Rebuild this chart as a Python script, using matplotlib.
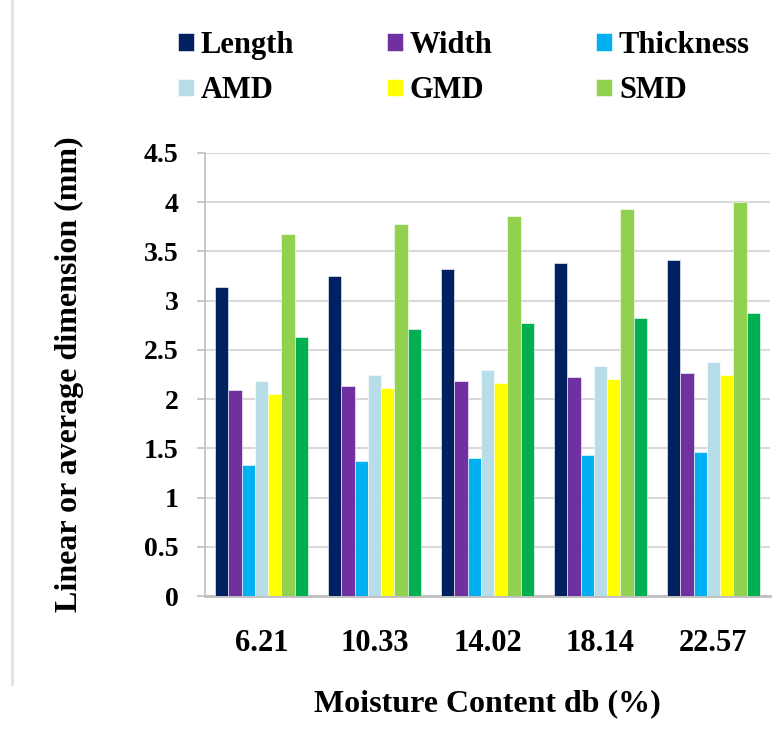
import numpy as np
import matplotlib
matplotlib.use('Agg')
import matplotlib.pyplot as plt

plt.rcParams['font.family'] = 'Liberation Serif'
plt.rcParams['font.weight'] = 'bold'

# Moisture content groups and the measured dimensions (mm)
moisture = ['6.21', '10.33', '14.02', '18.14', '22.57']
length = [3.14, 3.25, 3.32, 3.38, 3.41]
width = [2.09, 2.13, 2.18, 2.22, 2.27]
thickness = [1.33, 1.37, 1.40, 1.43, 1.46]
amd = [2.18, 2.25, 2.30, 2.34, 2.38]
gmd = [2.05, 2.11, 2.16, 2.20, 2.24]
smd = [3.68, 3.78, 3.86, 3.93, 4.00]
extra = [2.63, 2.71, 2.77, 2.82, 2.87]  # seventh series, no legend entry shown

series = [length, width, thickness, amd, gmd, smd, extra]
labels = ['Length', 'Width', 'Thickness', 'AMD', 'GMD', 'SMD', None]
colors = ['#002060', '#7030A0', '#00B0F0', '#B7DEE8', '#FFFF00', '#92D050', '#00B050']

fig = plt.figure(figsize=(7.83, 7.44), dpi=100)
ax = fig.add_axes([205/783, 1-596/744, 565/783, 443/744])

x = np.arange(len(moisture))
bw = 0.117
n = len(series)
handles = []
for i, (vals, lab, c) in enumerate(zip(series, labels, colors)):
    off = (i - (n-1)/2) * bw
    b = ax.bar(x + off, vals, bw, color=c, edgecolor='white', linewidth=0.4, zorder=3)
    if lab is not None:
        b.set_label(lab)
        handles.append(b)

ax.set_xlim(-0.5, len(moisture)-0.5)
ax.set_ylim(0, 4.5)
ax.set_yticks(np.arange(0, 4.51, 0.5))
ax.set_yticklabels(['0', '0.5', '1', '1.5', '2', '2.5', '3', '3.5', '4', '4.5'])
ax.set_xticks(x)
ax.set_xticklabels(moisture)
ax.yaxis.grid(True, color='#D9D9D9', linewidth=1.5, zorder=0)
ax.set_axisbelow(True)

for s in ['top', 'right']:
    ax.spines[s].set_visible(False)
ax.spines['left'].set_color('#BFBFBF')
ax.spines['left'].set_linewidth(1.2)
ax.spines['bottom'].set_color('#BFBFBF')
ax.spines['bottom'].set_linewidth(2)

ax.tick_params(axis='y', length=6, width=1.2, color='#BFBFBF', pad=13, labelsize=20)
ax.tick_params(axis='x', length=0, pad=24, labelsize=22)

ax.set_xlabel('Moisture Content db (%)', fontsize=23, fontweight='bold', labelpad=22)
ax.set_ylabel('Linear or average dimension (mm)', fontsize=23, fontweight='bold')
ax.yaxis.set_label_coords((84-205)/565, 0.5)

# legend: 3 evenly spaced columns, filled row by row
col_x = [178, 387, 596]
for j in range(3):
    leg = fig.legend(handles=[handles[j], handles[j+3]], loc='center left',
                     bbox_to_anchor=(col_x[j]/783, 1-68/744), ncol=1,
                     frameon=False, borderpad=0, borderaxespad=0,
                     handlelength=0.52, handleheight=0.52,
                     handletextpad=0.23, labelspacing=0.55,
                     prop={'family': 'Liberation Serif', 'weight': 'bold', 'size': 22})

# faint page edge on the left
fig.add_artist(plt.Line2D([12/783, 12/783], [0.08, 1], color='#E0E0E0', linewidth=2))

fig.savefig('out.png', dpi=100)
